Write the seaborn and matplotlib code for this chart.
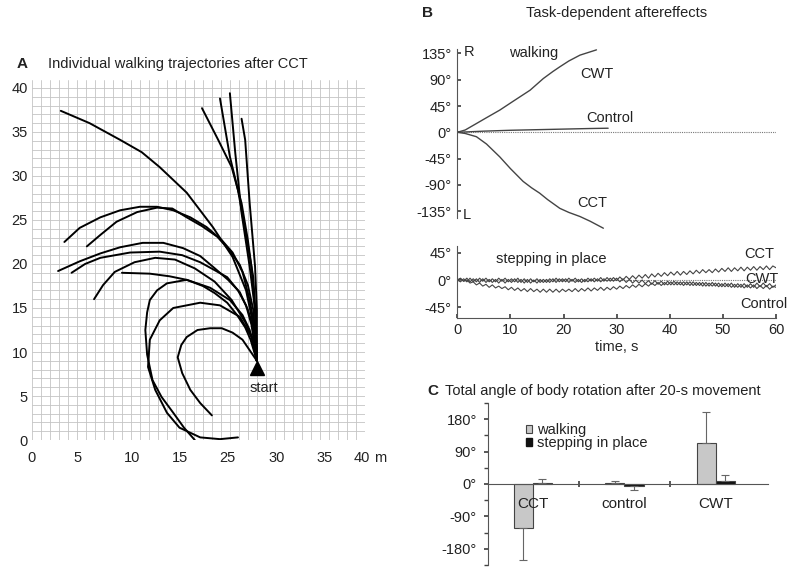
import numpy as np
import pandas as pd
import matplotlib
matplotlib.use('Agg')
import matplotlib.pyplot as plt
import seaborn as sns
from matplotlib.patches import Patch
from matplotlib.ticker import MultipleLocator

# ---- panel A: walking trajectories after CCT (grid units, m) ----
TRAJ_X = [
    [3.2, 6.4, 9.8, 12.2, 14.2, 17.2, 20.1, 22.3, 23.8, 24.6, 25.0],
    [18.9, 20.7, 22.2, 23.3, 24.0, 24.4, 24.8, 25.0],
    [20.9, 22.0, 22.9, 23.9, 24.6, 24.9, 25.0],
    [22.0, 22.6, 23.3, 24.2, 24.8, 25.0],
    [23.3, 23.7, 24.2, 24.8, 25.0, 25.0],
    [3.6, 5.3, 7.6, 9.8, 12.0, 13.9, 15.7, 17.6, 19.4, 21.1, 22.3, 23.4, 24.2, 24.8, 25.0],
    [6.1, 7.6, 9.4, 11.7, 13.9, 15.6, 17.2, 18.9, 20.6, 22.0, 23.1, 24.0, 24.6, 25.0],
    [2.9, 5.3, 7.6, 9.8, 12.3, 14.6, 16.8, 18.7, 20.1, 21.8, 23.1, 24.0, 24.7, 25.0],
    [4.4, 5.9, 7.6, 10.9, 14.2, 16.7, 18.7, 20.3, 21.7, 22.9, 23.8, 24.4, 25.0],
    [6.9, 7.9, 9.2, 11.4, 13.7, 15.9, 18.1, 20.3, 22.2, 23.7, 24.6, 25.0],
    [10.0, 13.1, 15.3, 17.2, 19.0, 20.3, 21.7, 22.8, 23.7, 24.3, 25.0],
    [18.1, 16.9, 15.7, 14.4, 13.4, 12.8, 12.6, 12.8, 13.1, 13.9, 15.0, 17.2, 19.8, 22.0, 23.4, 24.2, 25.0],
    [22.9, 20.9, 18.7, 16.4, 15.0, 13.7, 12.9, 13.1, 14.2, 15.7, 18.7, 20.9, 23.1, 24.6, 25.0],
    [20.0, 18.7, 17.6, 16.7, 16.2, 16.6, 17.2, 18.4, 19.8, 21.1, 22.3, 23.4, 24.2, 25.0],
]
TRAJ_Y = [
    [37.4, 36.0, 34.1, 32.7, 31.0, 28.1, 24.2, 20.8, 17.0, 13.1, 9.0],
    [37.7, 34.1, 31.0, 26.9, 22.7, 19.7, 14.8, 9.0],
    [38.8, 32.2, 28.4, 22.7, 18.5, 13.6, 9.0],
    [39.4, 32.6, 25.8, 19.7, 14.8, 9.0],
    [36.5, 34.1, 26.9, 19.7, 14.8, 9.0],
    [22.5, 24.1, 25.3, 26.1, 26.5, 26.5, 26.1, 25.3, 24.2, 22.7, 21.3, 19.1, 15.9, 12.5, 9.0],
    [22.0, 23.3, 24.8, 25.9, 26.4, 26.3, 25.3, 24.3, 23.1, 21.5, 19.9, 17.6, 14.8, 9.0],
    [19.2, 20.3, 21.2, 21.9, 22.4, 22.4, 21.8, 20.9, 19.7, 18.2, 16.8, 14.8, 12.5, 9.0],
    [19.0, 20.0, 20.7, 21.3, 21.4, 21.0, 20.2, 19.3, 18.5, 17.0, 15.3, 13.1, 9.0],
    [16.0, 17.6, 19.1, 20.2, 20.7, 20.5, 19.5, 18.0, 15.9, 13.4, 11.4, 9.0],
    [19.0, 18.9, 18.6, 18.2, 17.5, 16.7, 15.6, 14.2, 12.8, 11.4, 9.0],
    [0.0, 1.4, 3.1, 4.9, 6.8, 9.7, 12.5, 14.5, 15.9, 17.0, 17.8, 18.2, 17.3, 15.9, 14.2, 12.5, 9.0],
    [0.3, 0.1, 0.3, 1.4, 3.1, 5.7, 8.3, 11.4, 13.6, 15.0, 15.6, 15.3, 14.0, 11.4, 9.0],
    [2.8, 4.2, 5.7, 7.6, 9.4, 10.8, 11.7, 12.5, 12.7, 12.7, 12.2, 11.4, 10.2, 9.0],
]
START_X, START_Y = 25.0, 8.2
X_LABELS_A = ['0', '5', '10', '15', '25', '30', '35', '40']
Y_LABELS_A = ['0', '5', '10', '15', '20', '25', '30', '35', '40']

# ---- panel B top: walking aftereffects (deg vs s) ----
CWT_WALK_T = [0, 1.5, 3.6, 5.5, 8.0, 10.5, 13.7, 16.2, 18.0, 19.3, 21.0, 23.1, 26.2]
CWT_WALK_A = [0, 4, 15, 25, 38, 53, 72, 92, 104, 112, 122, 132, 141]
CCT_WALK_T = [0, 1.5, 3.6, 5.5, 8.0, 10.0, 12.4, 14.0, 15.5, 17.0, 19.3, 21.0, 23.1, 25.0, 27.5]
CCT_WALK_A = [0, -2, -7.5, -20, -42, -62, -84, -95, -104, -115, -130, -137, -144, -152, -164]
CTRL_WALK_T = [0, 5, 10, 15, 20, 25, 28.4]
CTRL_WALK_A = [0, 2, 3.5, 4.5, 5.5, 6.5, 7]

# ---- panel B bottom: stepping in place, sampled every 0.6 s ----
STEP_T = np.arange(0, 60.01, 0.6)
CCT_STEP = [
    0, 3, -2, 3, -3, 2, -3, 3, -2, 3,
    -3, 2, -3, 3, -2, 3, -3, 2, -3, 3,
    -4, 2, -4, 2, -3, 2, -4, 1, -4, 2,
    -3, 3, -3, 2, -3, 3, -2, 3, -3, 2,
    -3, 3, -2, 3, -2, 4, -2, 4, -2, 4,
    -1, 5, 0, 6, 1, 7, 2, 8, 3, 9,
    3, 10, 5, 11, 6, 12, 7, 13, 8, 14,
    8, 14, 9, 15, 10, 16, 11, 17, 12, 17,
    12, 18, 13, 19, 14, 20, 14, 20, 15, 21,
    15, 21, 16, 22, 16, 22, 17, 23, 17, 23,
    20,
]
CWT_STEP = [
    0, -3, 2, -3, 3, -3, 2, -4, 2, -4,
    1, -4, 1, -5, 1, -5, 1, -4, 2, -4,
    1, -5, 1, -5, 0, -5, 1, -4, 1, -4,
    2, -4, 2, -3, 2, -4, 1, -4, 1, -4,
    1, -3, 2, -3, 2, -3, 2, -2, 3, -2,
    3, -3, 2, -4, 1, -5, 0, -5, 0, -6,
    -1, -7, -1, -7, -2, -8, -2, -8, -2, -8,
    -3, -9, -3, -9, -3, -9, -4, -10, -4, -10,
    -4, -10, -5, -11, -5, -11, -5, -12, -6, -12,
    -6, -12, -6, -12, -5, -11, -5, -11, -6, -12,
    -8,
]
CTRL_STEP = [
    0, 2, -2, 0, -5, -3, -8, -5, -10, -7,
    -12, -8, -13, -10, -14, -11, -16, -12, -17, -13,
    -18, -14, -19, -14, -19, -15, -20, -15, -20, -15,
    -20, -15, -20, -15, -19, -15, -19, -14, -19, -14,
    -18, -13, -18, -13, -17, -12, -17, -12, -16, -11,
    -15, -10, -14, -9, -13, -8, -12, -7, -11, -6,
    -10, -5, -9, -4, -9, -4, -8, -3, -8, -3,
    -8, -3, -8, -3, -9, -4, -9, -4, -10, -5,
    -10, -5, -11, -6, -11, -6, -12, -7, -12, -7,
    -13, -8, -13, -8, -14, -9, -14, -9, -15, -10,
    -12,
]

# ---- panel C: total angle after 20 s ----
CONDITIONS = ['CCT', 'control', 'CWT']
TASKS = ['walking', 'stepping in place']
WALK_ANGLE = [-122, 4, 115]
WALK_ERR = [89, 5, 85]
STEP_ANGLE = [2, -5, 9]
STEP_ERR = [12, 11, 16]

sns.set_theme(style="white")
plt.rcParams['font.family'] = ['Liberation Sans', 'DejaVu Sans']
plt.rcParams['text.color'] = '#222222'
plt.rcParams['xtick.color'] = '#444444'
plt.rcParams['ytick.color'] = '#444444'
plt.rcParams['xtick.labelcolor'] = '#222222'
plt.rcParams['ytick.labelcolor'] = '#222222'

FS = 10.5
fig = plt.figure(figsize=(8, 5.74), dpi=100)

# ================= A =================
axA = fig.add_axes([0.04, 0.2334, 0.416, 0.6272])
rows = []
for i, (xs, ys) in enumerate(zip(TRAJ_X, TRAJ_Y)):
    for x, y in zip(xs, ys):
        rows.append((i, x, y))
traj = pd.DataFrame(rows, columns=['traj', 'x', 'y'])
sns.lineplot(data=traj, x='x', y='y', units='traj', estimator=None, sort=False,
             color='black', lw=1.4, ax=axA)
axA.plot(START_X, START_Y, marker='^', ms=10, color='black', zorder=5)
axA.text(START_X + 0.8, START_Y - 2.3, 'start', ha='center', va='center', fontsize=FS)

axA.set_xlim(0, 37)
axA.set_ylim(0, 40.9)
axA.xaxis.set_minor_locator(MultipleLocator(1))
axA.yaxis.set_minor_locator(MultipleLocator(1))
axA.xaxis.remove_overlapping_locs = False
axA.yaxis.remove_overlapping_locs = False
axA.set_xticks([0, 5.1, 11.1, 16.4, 21.7, 27.2, 32.5, 36.7])
axA.set_xticklabels(X_LABELS_A)
axA.set_yticks(range(0, 41, 5))
axA.set_yticklabels(Y_LABELS_A)
axA.grid(False)
axA.grid(True, which='minor', color='#c4c4c4', lw=0.6)
axA.tick_params(which='both', length=0, labelsize=FS)
axA.tick_params(axis='x', pad=8)
axA.tick_params(axis='y', pad=3)
for s in axA.spines.values():
    s.set_visible(False)
axA.set_xlabel('')
axA.set_ylabel('')
axA.text(1.045, -0.05, 'm', transform=axA.transAxes, ha='center', va='center', fontsize=FS)

fig.text(0.0275, 0.889, 'A', fontsize=11, fontweight='bold', ha='center', va='center')
fig.text(0.06, 0.889, 'Individual walking trajectories after CCT', fontsize=FS,
         ha='left', va='center')

# ================= B top =================
axB1 = fig.add_axes([0.5716, 0.6014, 0.3984, 0.3158])
axB1.axhline(0, ls=(0, (1, 1)), color='#777777', lw=0.8)
for t, a in [(CWT_WALK_T, CWT_WALK_A), (CCT_WALK_T, CCT_WALK_A), (CTRL_WALK_T, CTRL_WALK_A)]:
    sns.lineplot(x=t, y=a, color='#444444', lw=1.0, ax=axB1)
axB1.set_xlim(0, 60)
axB1.set_ylim(-165, 145)
for k in ['top', 'right', 'bottom']:
    axB1.spines[k].set_visible(False)
axB1.spines['left'].set_bounds(-146, 142)
axB1.spines['left'].set_color('#555555')
axB1.spines['left'].set_linewidth(0.8)
yt = [135, 90, 45, 0, -45, -90, -135]
axB1.set_yticks(yt)
axB1.set_yticklabels([f'{v}°' for v in yt])
axB1.set_xticks([])
axB1.tick_params(axis='y', direction='in', length=3, pad=4, labelsize=FS, left=True)
axB1.text(2.2, 137, 'R', fontsize=FS, ha='center', va='center')
axB1.text(1.8, -141, 'L', fontsize=FS, ha='center', va='center')
axB1.text(14.3, 136, 'walking', fontsize=FS, ha='center', va='center')
axB1.text(26.2, 100, 'CWT', fontsize=FS, ha='center', va='center')
axB1.text(28.7, 24, 'Control', fontsize=FS, ha='center', va='center')
axB1.text(25.4, -121, 'CCT', fontsize=FS, ha='center', va='center')

fig.text(0.534, 0.977, 'B', fontsize=11, fontweight='bold', ha='center', va='center')
fig.text(0.771, 0.977, 'Task-dependent aftereffects', fontsize=FS, ha='center', va='center')

# ================= B bottom =================
axB2 = fig.add_axes([0.5716, 0.4462, 0.3984, 0.1256])
axB2.axhline(0, ls=(0, (1, 1)), color='#777777', lw=0.8)
for a in [CCT_STEP, CWT_STEP, CTRL_STEP]:
    sns.lineplot(x=STEP_T, y=a, color='#444444', lw=0.8, ax=axB2)
axB2.set_xlim(0, 60)
axB2.set_ylim(-62, 56)
for k in ['top', 'right']:
    axB2.spines[k].set_visible(False)
for k in ['left', 'bottom']:
    axB2.spines[k].set_color('#555555')
    axB2.spines[k].set_linewidth(0.8)
axB2.set_yticks([45, 0, -45])
axB2.set_yticklabels(['45°', '0°', '-45°'])
axB2.set_xticks(range(0, 61, 10))
axB2.tick_params(axis='y', direction='in', length=3, pad=4, labelsize=FS, left=True)
axB2.tick_params(axis='x', direction='in', length=3, pad=4, labelsize=FS, bottom=True)
axB2.set_xlabel('time, s', fontsize=FS, labelpad=2)
axB2.set_ylabel('')
axB2.text(17.6, 34, 'stepping in place', fontsize=FS, ha='center', va='center')
axB2.text(56.8, 42.5, 'CCT', fontsize=FS, ha='center', va='center')
axB2.text(57.3, 1.6, 'CWT', fontsize=FS, ha='center', va='center')
axB2.text(57.7, -39, 'Control', fontsize=FS, ha='center', va='center')

# ================= C =================
axC = fig.add_axes([0.61, 0.0157, 0.35, 0.2822])
df_c = pd.DataFrame({
    'cond': CONDITIONS * 2,
    'task': [TASKS[0]] * 3 + [TASKS[1]] * 3,
    'angle': WALK_ANGLE + STEP_ANGLE,
})
sns.barplot(data=df_c, x='cond', y='angle', hue='task', order=CONDITIONS, hue_order=TASKS,
             palette=['#c8c8c8', '#111111'], width=0.42, edgecolor='#444444', linewidth=0.8,
             errorbar=None, legend=False, saturation=1, ax=axC)
for cont, vals, errs in zip(axC.containers, [WALK_ANGLE, STEP_ANGLE], [WALK_ERR, STEP_ERR]):
    xs = [p.get_x() + p.get_width() / 2 for p in cont]
    lower = [e if v < 0 else 0 for v, e in zip(vals, errs)]
    upper = [e if v >= 0 else 0 for v, e in zip(vals, errs)]
    axC.errorbar(xs, vals, yerr=[lower, upper], fmt='none', ecolor='#666666',
                 elinewidth=0.8, capsize=3, capthick=0.8)
axC.set_xlim(-0.49, 2.57)
axC.set_ylim(-225, 225)
for k in ['top', 'right']:
    axC.spines[k].set_visible(False)
axC.spines['bottom'].set_position(('data', 0))
for k in ['left', 'bottom']:
    axC.spines[k].set_color('#555555')
    axC.spines[k].set_linewidth(0.8)
axC.set_xticks([0.5, 1.5])
axC.set_xticklabels([])
axC.tick_params(axis='x', direction='inout', length=5, bottom=True)
axC.set_yticks([180, 90, 0, -90, -180])
axC.set_yticklabels(['180°', '90°', '0°', '-90°', '-180°'])
axC.yaxis.set_minor_locator(MultipleLocator(45))
axC.tick_params(axis='y', which='both', direction='out', length=3, left=True, pad=5, labelsize=FS)
axC.set_xlabel('')
axC.set_ylabel('')
for i, c in enumerate(CONDITIONS):
    axC.text(i, -55, c, fontsize=11, ha='center', va='center')
handles = [Patch(fc='#c8c8c8', ec='#444444', lw=0.8), Patch(fc='#111111', ec='#111111')]
axC.legend(handles, TASKS, loc='upper left', bbox_to_anchor=(0.135, 0.875), frameon=False,
           fontsize=FS, handlelength=0.45, handleheight=0.45, handletextpad=0.3,
           labelspacing=-0.1, borderpad=0, borderaxespad=0)

fig.text(0.541, 0.319, 'C', fontsize=11, fontweight='bold', ha='center', va='center')
fig.text(0.556, 0.319, 'Total angle of body rotation after 20-s movement', fontsize=FS,
         ha='left', va='center')

fig.savefig('out.png', dpi=100)
